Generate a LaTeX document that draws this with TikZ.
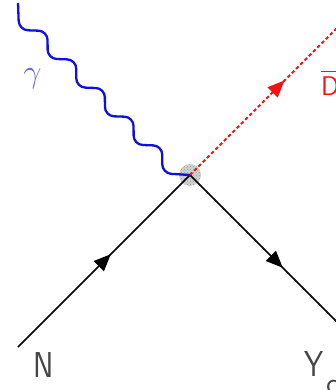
\documentclass[tikz,border=0pt]{standalone}
\usetikzlibrary{decorations.markings,arrows.meta,patterns}
\definecolor{phblue}{RGB}{15,15,225}
\definecolor{gblue}{RGB}{100,100,230}
\definecolor{dred}{RGB}{240,20,20}
\definecolor{lgray}{RGB}{70,70,70}
\tikzset{
  fermion/.style={line width=1.6pt, black, postaction={decorate},
    decoration={markings, mark=at position 0.54 with {\arrow{Triangle[length=17pt,width=14pt]}}}},
  scalar/.style={line width=2.1pt, dred, dash pattern=on 3.5pt off 2.5pt, postaction={decorate},
    decoration={markings, mark=at position 0.55 with {\arrow[dred]{Triangle[length=17pt,width=14pt]}}}},
  photon/.style={line width=2.3pt, phblue, rounded corners=9pt},
  lbl/.style={inner sep=0pt, anchor=base west, lgray, font=\fontsize{36}{36}\sffamily},
}
\begin{document}
\begin{tikzpicture}[x=1pt,y=-1pt]
\useasboundingbox (0,0) rectangle (336,390);
\clip (0,0) rectangle (336,390);
\coordinate (V) at (190,175);
\coordinate (Nst) at (18,347);
\coordinate (Yend) at (362,347);
\coordinate (Dend) at (362,3);
\coordinate (Gst) at (18,3);
% blob
\fill[gray!35] (V) circle (11);
\fill[pattern=crosshatch dots, pattern color=gray!80] (V) circle (11);
% lines
\draw[fermion] (Nst) -- (V);
\draw[fermion] (V) -- (Yend);
\draw[scalar] (V) -- (Dend);
\draw[photon] (Gst) -- (19,30) -- (47.5,31) -- (47.7,58.7) -- (76.2,59.7) -- (76.3,87.3)
  -- (104.8,88.3) -- (105,116) -- (133.5,117) -- (133.7,144.7) -- (162.2,145.7)
  -- (162.3,173.3) -- (V);
% labels
\node[inner sep=0pt, anchor=base west, gblue, scale=1.3, font=\fontsize{24.88}{25}\selectfont] (g) at (23,83) {$\gamma$};
\node[inner sep=0pt, anchor=base west, dred, font=\fontsize{27}{27}\sffamily] (d) at (321,96) {\rlap{\raisebox{23.5pt}{\rule{19pt}{1.3pt}}}D};
\node[lbl, xscale=0.85] (n) at (33,377) {N};
\node[lbl, xscale=0.85] (y) at (304,376) {Y};
\node[inner sep=0pt, anchor=base west, lgray, font=\fontsize{30}{30}\sffamily] (c) at (326,393) {c};
\end{tikzpicture}
\end{document}
